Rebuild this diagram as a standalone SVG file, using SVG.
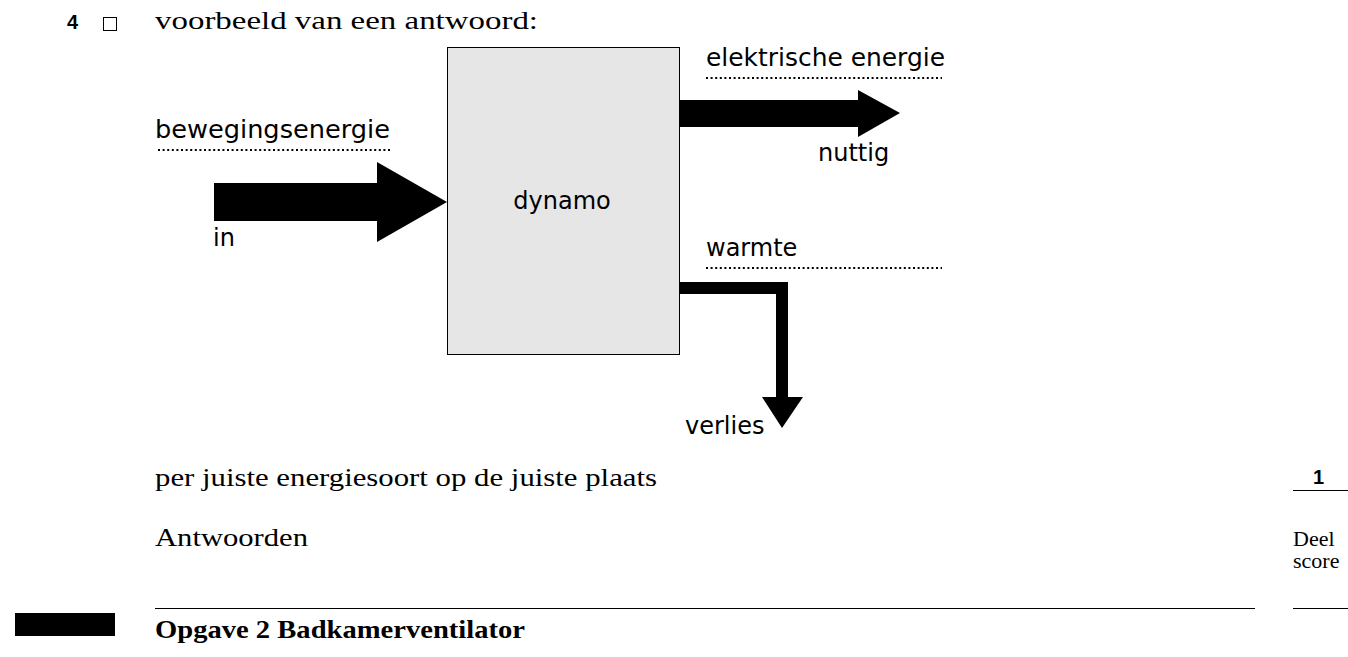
<svg xmlns="http://www.w3.org/2000/svg" width="1348" height="657" viewBox="0 0 1348 657">
<style>
.serif{font-family:"Liberation Serif",serif;font-size:25px;fill:#000}
.sans{font-family:"DejaVu Sans","Liberation Sans",sans-serif;font-size:24px;fill:#000}
.dots{stroke:#000;stroke-width:2;stroke-dasharray:2 2.6;fill:none}
.arrow{fill:#000}
</style>
<rect width="1348" height="657" fill="#fff"/>
<text x="67" y="29" font-family="Liberation Sans,sans-serif" font-weight="bold" font-size="20">4</text>
<rect x="103.5" y="17.5" width="13" height="13" fill="none" stroke="#000" stroke-width="1"/>
<text x="155" y="29" class="serif" textLength="383" lengthAdjust="spacingAndGlyphs">voorbeeld van een antwoord:</text>
<g id="dynamo">
<rect x="447.5" y="47.5" width="232" height="307" fill="#e6e6e6" stroke="#000" stroke-width="1"/>
<text x="562" y="209" class="sans" text-anchor="middle">dynamo</text>
</g>
<g id="connectors">
<polygon class="arrow" points="214,183 377,183 377,162 447,202 377,242 377,221 214,221"/>
<polygon class="arrow" points="680,100 858,100 858,90 900,113 858,137 858,127 680,127"/>
<polygon class="arrow" points="680,282 788,282 788,397 803,397 782,428 762,397 776,397 776,294 680,294"/>
</g>
<g id="label-in">
<text x="155" y="138" class="sans" textLength="235" lengthAdjust="spacingAndGlyphs">bewegingsenergie</text>
<line x1="158" y1="150" x2="390" y2="150" class="dots"/>
<text x="213" y="246" class="sans">in</text>
</g>
<g id="label-nuttig">
<text x="706" y="66" class="sans" textLength="239" lengthAdjust="spacingAndGlyphs">elektrische energie</text>
<line x1="706" y1="78" x2="942" y2="78" class="dots"/>
<text x="818" y="161" class="sans">nuttig</text>
</g>
<g id="label-verlies">
<text x="706" y="256" class="sans">warmte</text>
<line x1="706" y1="268" x2="942" y2="268" class="dots"/>
<text x="685" y="434" class="sans">verlies</text>
</g>
<text x="155" y="486" class="serif" textLength="502" lengthAdjust="spacingAndGlyphs">per juiste energiesoort op de juiste plaats</text>
<text x="1313" y="484" font-family="Liberation Sans,sans-serif" font-weight="bold" font-size="20">1</text>
<line x1="1293" y1="490.5" x2="1348" y2="490.5" stroke="#000" stroke-width="1"/>
<text x="155" y="546" class="serif" textLength="153" lengthAdjust="spacingAndGlyphs">Antwoorden</text>
<text x="1293" y="546" font-family="Liberation Serif,serif" font-size="22">Deel</text>
<text x="1293" y="568" font-family="Liberation Serif,serif" font-size="22">score</text>
<line x1="155" y1="608.5" x2="1255" y2="608.5" stroke="#000" stroke-width="1"/>
<line x1="1293" y1="608.5" x2="1348" y2="608.5" stroke="#000" stroke-width="1"/>
<rect x="15" y="613" width="100" height="23" fill="#000"/>
<text x="155" y="638" class="serif" font-weight="bold" textLength="370" lengthAdjust="spacingAndGlyphs">Opgave 2 Badkamerventilator</text>
</svg>
